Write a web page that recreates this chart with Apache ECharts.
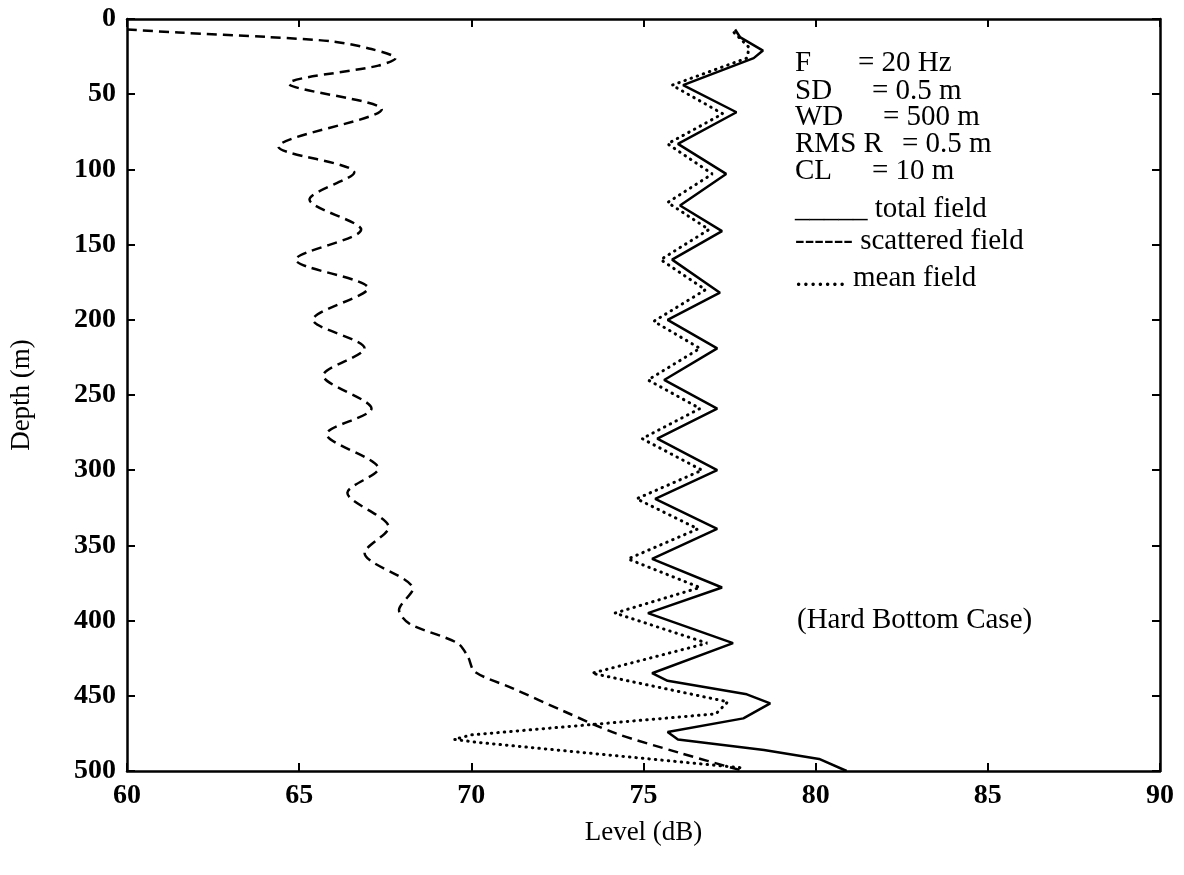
<!DOCTYPE html>
<html>
<head>
<meta charset="utf-8">
<script src="https://cdn.jsdelivr.net/npm/echarts@6/dist/echarts.min.js"></script>
<style>
  html, body { margin: 0; padding: 0; background: #fff; }
  #main { width: 1184px; height: 875px; }
</style>
</head>
<body>
<div id="main"></div>
<script>
// [level (dB), depth (m)]
var totalField = [
    [77.66, 7], [77.8, 12], [78.47, 21], [78.2, 26], [76.15, 44], [77.7, 62],
    [76.0, 83], [77.4, 103], [76.06, 124], [77.28, 141], [75.83, 160], [77.22, 182],
    [75.7, 200], [77.14, 219], [75.6, 240], [77.14, 259], [75.4, 279], [77.14, 300],
    [75.34, 319], [77.14, 339], [75.25, 359], [77.28, 378], [75.13, 395], [77.6, 415],
    [75.25, 435], [75.7, 440], [78.0, 449], [78.68, 455], [77.9, 465], [75.7, 474],
    [76.0, 479], [78.5, 486], [80.1, 492], [80.9, 500]
];
var scatteredField = [
    [60.0, 7], [61.5, 9], [64.1, 12], [66.0, 15], [67.1, 20], [67.8, 26], [67.3, 31],
    [64.7, 43], [67.4, 60], [64.4, 85], [66.6, 102], [65.3, 120], [66.8, 140],
    [64.9, 160], [67.0, 179], [65.4, 200], [66.9, 219], [65.7, 237], [67.1, 259],
    [65.8, 276], [67.3, 299], [66.4, 315], [67.6, 338], [66.9, 355], [68.3, 379],
    [67.9, 393], [68.2, 402], [69.6, 415], [69.9, 424], [70.1, 434], [71.2, 445],
    [72.66, 460], [74.2, 475], [76.06, 488], [77.9, 500]
];
var meanField = [
    [77.63, 9], [78.07, 19], [78.0, 26], [75.83, 44], [77.3, 63], [75.7, 83],
    [77.0, 103], [75.7, 122], [76.9, 140], [75.5, 160], [76.8, 180], [75.3, 201],
    [76.64, 219], [75.13, 240], [76.64, 259], [74.96, 279], [76.7, 300], [74.8, 319],
    [76.58, 339], [74.55, 359], [76.64, 378], [74.17, 395], [76.85, 415], [73.5, 435],
    [77.45, 454], [77.1, 462], [70.0, 476], [69.5, 479], [70.2, 481], [77.9, 498]
];

var paramNames = ['F', 'SD', 'WD', 'RMS R', 'CL'];
var paramValues = ['= 20 Hz', '= 0.5 m', '= 500 m', '= 0.5 m', '= 10 m'];
var paramValueX = [858, 872, 883, 902, 872];
var paramRowY = [65, 93, 119, 146, 173];
var legendTexts = ['_____ total field', '------ scattered field', '....... mean field'];
var legendRowY = [211, 243, 280];
var caseText = '(Hard Bottom Case)';

var FONT = '"Liberation Serif", "DejaVu Serif", serif';
var TEXT_SIZE = 29;

var chart = echarts.init(document.getElementById('main'));

var graphics = [];
for (var i = 0; i < paramNames.length; i++) {
    graphics.push({
        type: 'text', left: 795, top: paramRowY[i] - 16,
        style: { text: paramNames[i], font: TEXT_SIZE + 'px ' + FONT, fill: '#000' }
    });
    graphics.push({
        type: 'text', left: paramValueX[i], top: paramRowY[i] - 16,
        style: { text: paramValues[i], font: TEXT_SIZE + 'px ' + FONT, fill: '#000' }
    });
}
for (var j = 0; j < legendTexts.length; j++) {
    graphics.push({
        type: 'text', left: 795, top: legendRowY[j] - 16,
        style: { text: legendTexts[j], font: TEXT_SIZE + 'px ' + FONT, fill: '#000' }
    });
}
graphics.push({
    type: 'text', left: 797, top: 606,
    style: { text: caseText, font: TEXT_SIZE + 'px ' + FONT, fill: '#000' }
});

var axisCommon = {
    axisLine: { show: true, onZero: false, lineStyle: { color: '#000', width: 2.5 } },
    axisTick: { show: true, inside: true, length: 8, lineStyle: { color: '#000', width: 2 } },
    splitLine: { show: false }
};

var labelStyle = { fontFamily: FONT, fontSize: 28, fontWeight: 'bold', color: '#000' };

chart.setOption({
    animation: false,
    backgroundColor: '#fff',
    grid: { left: 127, right: 24, top: 19, bottom: 104 },
    xAxis: [
        Object.assign({
            type: 'value', position: 'bottom', min: 60, max: 90, interval: 5,
            name: 'Level (dB)', nameLocation: 'middle', nameGap: 48,
            nameTextStyle: { fontFamily: FONT, fontSize: 27, color: '#000' },
            axisLabel: Object.assign({ margin: 11 }, labelStyle)
        }, axisCommon),
        Object.assign({
            type: 'value', position: 'top', min: 60, max: 90, interval: 5,
            axisLabel: { show: false }
        }, axisCommon)
    ],
    yAxis: [
        Object.assign({
            type: 'value', position: 'left', inverse: true, min: 0, max: 500, interval: 50,
            name: 'Depth (m)', nameLocation: 'middle', nameGap: 92, nameRotate: 90,
            nameTextStyle: { fontFamily: FONT, fontSize: 27, color: '#000' },
            axisLabel: Object.assign({ margin: 11 }, labelStyle)
        }, axisCommon),
        Object.assign({
            type: 'value', position: 'right', inverse: true, min: 0, max: 500, interval: 50,
            axisLabel: { show: false }
        }, axisCommon)
    ],
    series: [
        {
            name: 'total field', type: 'line', data: totalField,
            showSymbol: false, symbol: 'none',
            lineStyle: { color: '#000', width: 2.5 }
        },
        {
            name: 'scattered field', type: 'line', data: scatteredField,
            showSymbol: false, symbol: 'none', smooth: 0.3,
            lineStyle: { color: '#000', width: 2.5, type: [10, 6] }
        },
        {
            name: 'mean field', type: 'line', data: meanField,
            showSymbol: false, symbol: 'none',
            lineStyle: { color: '#000', width: 3, type: [0.5, 6], cap: 'round' }
        }
    ],
    graphic: graphics
});
</script>
</body>
</html>
